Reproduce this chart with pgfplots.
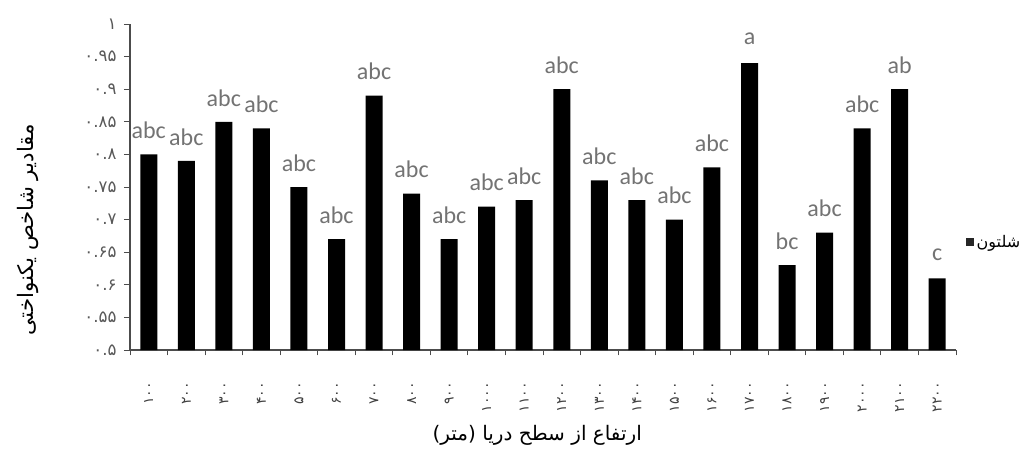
\documentclass[border=0pt]{standalone}
\usepackage{fontspec}
\setmainfont{Carlito}
\newfontfamily\arabicfont[Script=Arabic]{DejaVu Sans}
\newfontfamily\digitfont{DejaVu Sans}
\TeXXeTstate=1
\usepackage{pgfplots}
\pgfplotsset{compat=1.18}
\usepackage{pgfplotstable}

\pgfplotstableread{
x y lab
0 0.80 abc
1 0.79 abc
2 0.85 abc
3 0.84 abc
4 0.75 abc
5 0.67 abc
6 0.89 abc
7 0.74 abc
8 0.67 abc
9 0.72 abc
10 0.73 abc
11 0.90 abc
12 0.76 abc
13 0.73 abc
14 0.70 abc
15 0.78 abc
16 0.94 a
17 0.63 bc
18 0.68 abc
19 0.84 abc
20 0.90 ab
21 0.61 c
}\data

\begin{document}
\begin{tikzpicture}
\useasboundingbox (0,0) rectangle (773.25pt,342.75pt);
\begin{axis}[
  at={(97.5pt,80.25pt)}, anchor=south west,
  scale only axis, width=619.5pt, height=244.5pt,
  xmin=-0.5, xmax=21.5, ymin=0.5, ymax=1,
  enlargelimits=false,
  ybar, bar width=12.75pt,
  axis x line*=bottom, axis y line*=left,
  axis line style={black!70, line width=0.8pt},
  xtick={0,...,21},
  xticklabels={۱۰۰,۲۰۰,۳۰۰,۴۰۰,۵۰۰,۶۰۰,۷۰۰,۸۰۰,۹۰۰,۱۰۰۰,۱۱۰۰,۱۲۰۰,۱۳۰۰,۱۴۰۰,۱۵۰۰,۱۶۰۰,۱۷۰۰,۱۸۰۰,۱۹۰۰,۲۰۰۰,۲۱۰۰,۲۲۰۰},
  major x tick style={draw=none},
  minor xtick={-0.5,0.5,...,21.5},
  minor x tick style={black!70, line width=0.7pt},
  minor tick length=4pt,
  tick align=outside,
  major tick length=4.5pt,
  ytick={0.5,0.55,0.6,0.65,0.7,0.75,0.8,0.85,0.9,0.95,1},
  yticklabels={۰.۵,۰.۵۵,۰.۶,۰.۶۵,۰.۷,۰.۷۵,۰.۸,۰.۸۵,۰.۹,۰.۹۵,۱},
  y tick style={black!70, line width=0.7pt},
  xticklabel style={font=\digitfont\fontsize{10.5}{11}\selectfont, rotate=90, anchor=east, text=black!75},
  xticklabel shift=16pt,
  yticklabel style={font=\digitfont\fontsize{12.5}{13}\selectfont, text=black!65},
  yticklabel shift=2pt,
  xlabel={\arabicfont\beginR ارتفاع از سطح دریا (متر)\endR},
  xlabel style={at={(rel axis cs:0.493,-0.261)}, anchor=center, font=\arabicfont\fontsize{15}{17}\selectfont},
  ylabel={\arabicfont\beginR مقادیر شاخص یکنواختی\endR},
  ylabel style={at={(rel axis cs:-0.1235,0.368)}, anchor=center, font=\arabicfont\fontsize{16}{18}\selectfont},
  legend style={at={(rel axis cs:1.007,0.331)}, anchor=west, draw=none, fill=none, font=\arabicfont\fontsize{12}{13}\selectfont},
  legend image code/.code={\fill[black!85] (0pt,-3pt) rectangle (6pt,3pt);},
  nodes near coords,
  point meta=explicit symbolic,
  nodes near coords align={center},
  every node near coord/.append style={font=\fontsize{18}{20}\selectfont, text=black!55, yshift=18pt},
]
\addplot[fill=black, draw=none] table[x=x, y=y, meta=lab]{\data};
\addlegendentry{\beginR شلتون\endR}
\end{axis}
\end{tikzpicture}
\end{document}
